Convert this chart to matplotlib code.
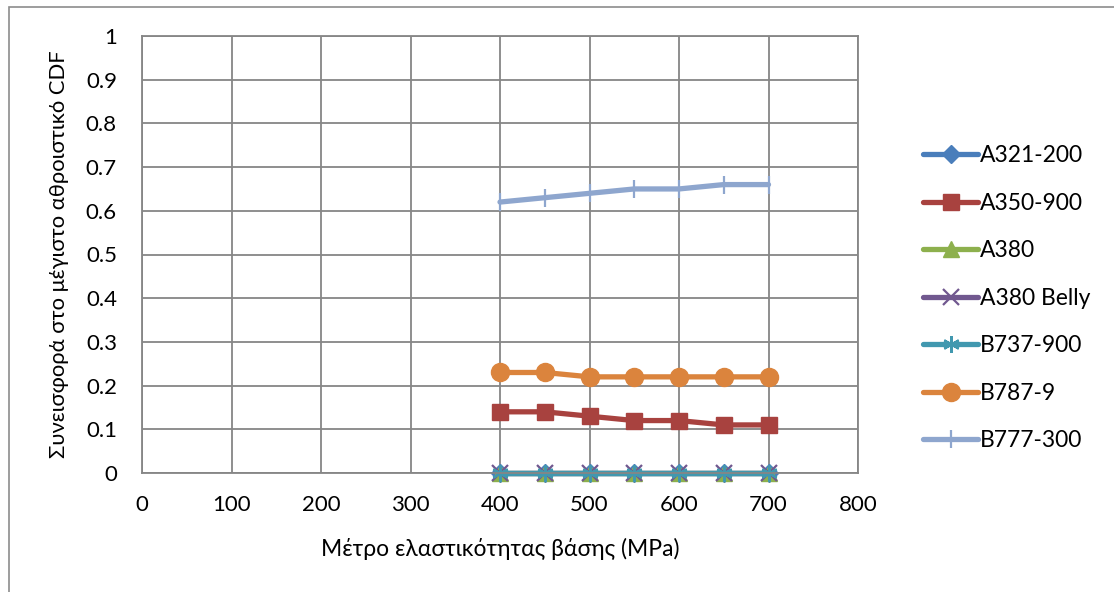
import matplotlib
matplotlib.use("Agg")
import matplotlib.pyplot as plt
from matplotlib.patches import Rectangle

x_values = [400, 450, 500, 550, 600, 650, 700]
a321_200 = [0, 0, 0, 0, 0, 0, 0]
a350_900 = [0.14, 0.14, 0.13, 0.12, 0.12, 0.11, 0.11]
a380 = [0, 0, 0, 0, 0, 0, 0]
a380_belly = [0, 0, 0, 0, 0, 0, 0]
b737_900 = [0, 0, 0, 0, 0, 0, 0]
b787_9 = [0.23, 0.23, 0.22, 0.22, 0.22, 0.22, 0.22]
b777_300 = [0.62, 0.63, 0.64, 0.65, 0.65, 0.66, 0.66]

series_names = ["A321-200", "A350-900", "A380", "A380 Belly", "B737-900", "B787-9", "B777-300"]
series_values = [a321_200, a350_900, a380, a380_belly, b737_900, b787_9, b777_300]
colors = ["#4A7EBB", "#A8423F", "#8DB04D", "#71588F", "#4198AF", "#DB843D", "#8EA6CE"]
markers = ["D", "s", "^", "x", (6, 2, 0), "o", "|"]
msizes = [9, 12, 12, 11, 12, 13, 13]

x_ticks = [0, 100, 200, 300, 400, 500, 600, 700, 800]
y_ticks = [0, 0.1, 0.2, 0.3, 0.4, 0.5, 0.6, 0.7, 0.8, 0.9, 1]
y_tick_labels = ["0", "0.1", "0.2", "0.3", "0.4", "0.5", "0.6", "0.7", "0.8", "0.9", "1"]

plt.rcParams['font.family'] = ['Lato', 'DejaVu Sans']

fig = plt.figure(figsize=(11.14, 5.92), dpi=100)
# outer chart border
fig.patches.append(Rectangle((9 / 1114, -0.1), 1.2, 1 - 7 / 592 + 0.1,
                             transform=fig.transFigure, fill=False,
                             edgecolor="#8C8C8C", linewidth=1.2))

ax = fig.add_axes([142 / 1114, 1 - 473 / 592, (858 - 142) / 1114, (473 - 36) / 592])
ax.set_xlim(0, 800)
ax.set_ylim(0, 1)
ax.set_xticks(x_ticks)
ax.set_yticks(y_ticks)
ax.set_yticklabels(y_tick_labels)
ax.grid(True, color="#868686", linewidth=1.3)
ax.set_axisbelow(True)
for s in ax.spines.values():
    s.set_color("#868686")
    s.set_linewidth(1.3)
ax.tick_params(length=0, labelsize=16, pad=16)
ax.tick_params(axis='y', pad=18)

for name, vals, c, m, ms in zip(series_names, series_values, colors, markers, msizes):
    mew = 1.6 if m in ("x", "|") or isinstance(m, tuple) else 1
    ax.plot(x_values, vals, color=c, linewidth=3.8, marker=m, markersize=ms,
            markeredgecolor=c, markerfacecolor=c, markeredgewidth=mew,
            label=name, clip_on=False, solid_capstyle='round')

ax.set_xlabel("Μέτρο ελαστικότητας βάσης (MPa)", fontsize=16.5, labelpad=16)
ax.set_ylabel("Συνεισφορά στο μέγιστο αθροιστικό CDF", fontsize=15.8, labelpad=12)

leg = ax.legend(loc="center left", bbox_to_anchor=(1.062, 0.40), frameon=False,
                fontsize=16.5, handlelength=2.4, handletextpad=0.1, labelspacing=1.16)

fig.savefig("out.png", dpi=100)
